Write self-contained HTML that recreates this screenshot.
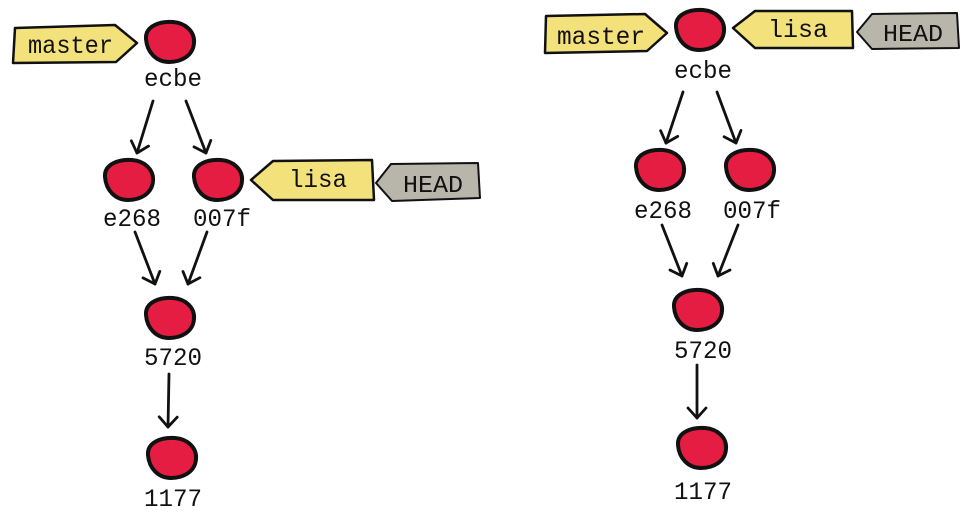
<!DOCTYPE html>
<html><head><meta charset="utf-8"><style>
html,body{margin:0;padding:0;background:#fff;}
svg{display:block;}
text{font-family:"Liberation Mono","DejaVu Sans Mono",monospace;fill:#111;}
</style></head><body>
<svg width="973" height="518" viewBox="0 0 973 518" xmlns="http://www.w3.org/2000/svg">
<defs>
<path id="blob" d="M-23,-3 C-24,-16 -9,-21 4,-20 C17,-19 26,-10 25,1 C24,14 12,20 0,20 C-13,20 -22,10 -23,-3 Z" fill="#e51d42" stroke="#111" stroke-width="4"/>
<marker id="ah" markerWidth="24" markerHeight="24" refX="12" refY="12" orient="auto" markerUnits="userSpaceOnUse">
<path d="M2,3 L12,12 L2,21" fill="none" stroke="#111" stroke-width="2.8" stroke-linecap="round" stroke-linejoin="round"/>
</marker>
</defs>
<g stroke="#111" stroke-width="2.8" fill="none" stroke-linecap="round" marker-end="url(#ah)">
<line x1="153" y1="101" x2="137" y2="153"/>
<line x1="186" y1="101" x2="206" y2="153"/>
<line x1="135" y1="232" x2="155" y2="284"/>
<line x1="207" y1="232" x2="188" y2="284"/>
<line x1="169" y1="374" x2="168" y2="427"/>
<line x1="683" y1="92" x2="666" y2="143"/>
<line x1="717" y1="92" x2="736" y2="143"/>
<line x1="662" y1="225" x2="682" y2="276"/>
<line x1="738" y1="225" x2="718" y2="276"/>
<line x1="697" y1="365" x2="697" y2="418"/>
</g>
<path d="M15,28 L115,25 L137,43 L116,62 L13,63 Z" fill="#f3e17c" stroke="#111" stroke-width="2.5" stroke-linejoin="round"/>
<text x="28" y="53" font-size="25" textLength="85" lengthAdjust="spacingAndGlyphs">master</text>
<path d="M251,180 L273,161 L372,160 L374,200 L273,200 Z" fill="#f3e17c" stroke="#111" stroke-width="2.5" stroke-linejoin="round"/>
<text x="289" y="187" font-size="25" textLength="58" lengthAdjust="spacingAndGlyphs">lisa</text>
<path d="M376,183 L391,164 L478,163 L480,198 L392,201 Z" fill="#b8b5aa" stroke="#111" stroke-width="2" stroke-linejoin="round"/>
<text x="403" y="192" font-size="24" textLength="60" lengthAdjust="spacingAndGlyphs">HEAD</text>
<path d="M546,16 L645,14 L667,33 L647,51 L545,53 Z" fill="#f3e17c" stroke="#111" stroke-width="2.5" stroke-linejoin="round"/>
<text x="557" y="44" font-size="25" textLength="88" lengthAdjust="spacingAndGlyphs">master</text>
<path d="M733,28 L755,11 L852,11 L853,48 L755,48 Z" fill="#f3e17c" stroke="#111" stroke-width="2.5" stroke-linejoin="round"/>
<text x="768" y="37" font-size="25" textLength="60" lengthAdjust="spacingAndGlyphs">lisa</text>
<path d="M857,32 L872,14 L957,13 L959,48 L872,49 Z" fill="#b8b5aa" stroke="#111" stroke-width="2" stroke-linejoin="round"/>
<text x="883" y="41" font-size="24" textLength="60" lengthAdjust="spacingAndGlyphs">HEAD</text>
<use href="#blob" x="169" y="42"/>
<use href="#blob" x="128" y="180"/>
<use href="#blob" x="217" y="180"/>
<use href="#blob" x="169" y="318"/>
<use href="#blob" x="171" y="458"/>
<text x="173" y="86" font-size="25" text-anchor="middle" textLength="58" lengthAdjust="spacingAndGlyphs">ecbe</text>
<text x="132" y="226" font-size="25" text-anchor="middle" textLength="58" lengthAdjust="spacingAndGlyphs">e268</text>
<text x="222" y="226" font-size="25" text-anchor="middle" textLength="58" lengthAdjust="spacingAndGlyphs">007f</text>
<text x="173" y="365" font-size="25" text-anchor="middle" textLength="58" lengthAdjust="spacingAndGlyphs">5720</text>
<text x="173" y="506" font-size="25" text-anchor="middle" textLength="58" lengthAdjust="spacingAndGlyphs">1177</text>
<use href="#blob" x="699" y="30"/>
<use href="#blob" x="659" y="170"/>
<use href="#blob" x="749" y="170"/>
<use href="#blob" x="697" y="310"/>
<use href="#blob" x="701" y="448"/>
<text x="703" y="78" font-size="25" text-anchor="middle" textLength="58" lengthAdjust="spacingAndGlyphs">ecbe</text>
<text x="663" y="218" font-size="25" text-anchor="middle" textLength="58" lengthAdjust="spacingAndGlyphs">e268</text>
<text x="752" y="218" font-size="25" text-anchor="middle" textLength="58" lengthAdjust="spacingAndGlyphs">007f</text>
<text x="703" y="358" font-size="25" text-anchor="middle" textLength="58" lengthAdjust="spacingAndGlyphs">5720</text>
<text x="703" y="499" font-size="25" text-anchor="middle" textLength="58" lengthAdjust="spacingAndGlyphs">1177</text>
</svg>
</body></html>
